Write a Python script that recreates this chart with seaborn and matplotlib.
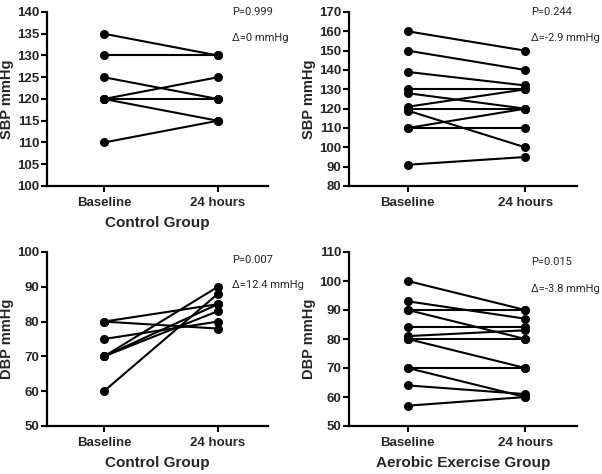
import numpy as np
import pandas as pd
import seaborn as sns
import matplotlib.pyplot as plt

# %% data
times = ['Baseline', '24 hours']

# control group SBP
ctrl_sbp_base = [135, 130, 125, 120, 120, 120, 110]
ctrl_sbp_24h = [130, 130, 120, 125, 120, 115, 115]

# aerobic exercise group SBP
aer_sbp_base = [160, 150, 139, 130, 128, 121, 120, 119, 110, 110, 91]
aer_sbp_24h = [150, 140, 132, 130, 120, 130, 120, 100, 110, 120, 95]

# control group DBP
ctrl_dbp_base = [80, 80, 75, 70, 70, 70, 60]
ctrl_dbp_24h = [85, 78, 80, 90, 85, 83, 88]

# aerobic exercise group DBP
aer_dbp_base = [100, 93, 90, 90, 84, 81, 80, 80, 70, 70, 64, 57]
aer_dbp_24h = [90, 87, 90, 80, 84, 83, 80, 70, 70, 60, 61, 60]

p_labels = ['P=0.999', 'P=0.244', 'P=0.007', 'P=0.015']
d_labels = ['\u0394=0 mmHg', '\u0394=-2.9 mmHg', '\u0394=12.4 mmHg', '\u0394=-3.8 mmHg']
y_labels = ['SBP mmHg', 'SBP mmHg', 'DBP mmHg', 'DBP mmHg']
x_labels = ['Control Group', '', 'Control Group', 'Aerobic Exercise Group']


def to_long(base, after):
    rows = []
    for i, (b, a) in enumerate(zip(base, after)):
        rows.append({'subject': i, 'x': 0, 'value': b})
        rows.append({'subject': i, 'x': 1, 'value': a})
    return pd.DataFrame(rows)


# %% plot
sns.set_style('ticks')
plt.rcParams['font.family'] = ['Liberation Sans', 'DejaVu Sans']

W, H = 602, 474
fig = plt.figure(figsize=(W / 100, H / 100), dpi=100)

# axes boxes in pixels: left, right, top, bottom
boxes = [(47, 268, 12, 186), (349, 577, 12, 186),
         (47, 268, 252, 426), (349, 577, 252, 426)]
ylims = [(100, 140, 5), (80, 170, 10), (50, 100, 10), (50, 110, 10)]
data = [(ctrl_sbp_base, ctrl_sbp_24h), (aer_sbp_base, aer_sbp_24h),
        (ctrl_dbp_base, ctrl_dbp_24h), (aer_dbp_base, aer_dbp_24h)]
text_pos = [(232, 12, 38), (531, 12, 38), (232, 260, 285), (531, 262, 289)]

for k in range(4):
    l, r, t, b = boxes[k]
    ax = fig.add_axes([l / W, 1 - b / H, (r - l) / W, (b - t) / H])
    df = to_long(*data[k])
    sns.lineplot(data=df, x='x', y='value', units='subject', estimator=None,
                 color='black', marker='o', markersize=6.5, markeredgewidth=0,
                 linewidth=1.5, ax=ax, legend=False)
    lo, hi, step = ylims[k]
    ax.set_ylim(lo, hi)
    ax.set_yticks(np.arange(lo, hi + 0.1, step))
    ax.set_xlim(-0.5, 1.44)
    ax.set_xticks([0, 1])
    ax.set_xticklabels(times)
    for lab in ax.get_xticklabels() + ax.get_yticklabels():
        lab.set_fontweight('bold')
        lab.set_fontsize(9.5)
    ax.tick_params(width=1.5, length=4, pad=1.5, color='black')
    ax.tick_params(axis='x', pad=4)
    for s in ['left', 'bottom']:
        ax.spines[s].set_linewidth(1.6)
        ax.spines[s].set_color('black')
    sns.despine(ax=ax)
    ax.set_ylabel(y_labels[k], fontsize=10.5, fontweight='bold', labelpad=2)
    ax.set_xlabel(x_labels[k], fontsize=11, fontweight='bold', labelpad=5)
    ax.set_facecolor('white')

    tx, ty1, ty2 = text_pos[k]
    fig.text(tx / W, 1 - ty1 / H, p_labels[k], fontsize=8, va='center',
             family=['Roboto', 'DejaVu Sans'])
    fig.text(tx / W, 1 - ty2 / H, d_labels[k], fontsize=8, va='center',
             family=['Roboto', 'DejaVu Sans'])

fig.savefig('out.png', dpi=100, facecolor='white')
